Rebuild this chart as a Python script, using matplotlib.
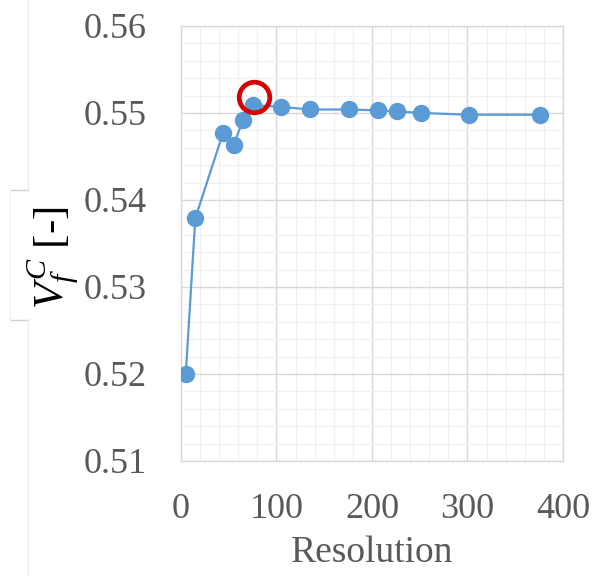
import matplotlib
matplotlib.use("Agg")
import matplotlib.pyplot as plt
from matplotlib.lines import Line2D
from matplotlib.ticker import MultipleLocator

plt.rcParams["font.family"] = "Liberation Serif"
plt.rcParams["mathtext.fontset"] = "custom"
plt.rcParams["mathtext.rm"] = "Liberation Serif"
plt.rcParams["mathtext.it"] = "Liberation Serif:italic"

# grid resolution vs. converged fibre volume fraction
resolution = [5, 15, 44, 55, 65, 75, 105, 135, 176, 206, 226, 251, 302, 376]
vf_c = [0.5200, 0.5379, 0.5477, 0.5463, 0.5492, 0.5509, 0.5507,
        0.5504, 0.5504, 0.5503, 0.5502, 0.5500, 0.5498, 0.5498]

# highlighted (chosen) resolution
highlight_x = 76
highlight_y = 0.5518

x_ticks = [0, 100, 200, 300, 400]
y_ticks = [0.51, 0.52, 0.53, 0.54, 0.55, 0.56]

BLUE = "#5B9BD5"
GREY_TXT = "#595959"

fig = plt.figure(figsize=(5.94, 5.76), dpi=100)
ax = fig.add_axes([0.3047, 0.1997, 0.6431, 0.7552])

ax.plot(resolution, vf_c, color=BLUE, lw=1.6, marker="o", ms=11.5,
        mec=BLUE, mfc=BLUE, zorder=3)
ax.plot(highlight_x, highlight_y, marker="o", ms=22, mfc="none",
        mec="#d60000", mew=3.4, zorder=4)

ax.set_xlim(0, 400)
ax.set_ylim(0.51, 0.56)
ax.set_xticks(x_ticks)
ax.set_yticks(y_ticks)
ax.set_yticklabels([f"{v:.2f}" for v in y_ticks])
ax.xaxis.set_minor_locator(MultipleLocator(20))
ax.yaxis.set_minor_locator(MultipleLocator(0.002))
ax.grid(True, which="major", color="#d9d9d9", lw=1.0, zorder=0)
ax.grid(True, which="minor", color="#f0f0f0", lw=0.9, zorder=0)
ax.set_axisbelow(True)
ax.tick_params(which="both", length=0, labelsize=26, labelcolor=GREY_TXT)
ax.tick_params(axis="x", pad=23)
ax.tick_params(axis="y", pad=25)
for s in ax.spines.values():
    s.set_color("#d9d9d9")
    s.set_linewidth(1.0)

ax.set_xlabel("Resolution", fontsize=27, color=GREY_TXT, labelpad=7)
fig.text(0.089, 0.552, "$V_f^C$ [-]", rotation=90, fontsize=31,
         color="black", ha="center", va="center")

# faint box lines at the left edge
top_y = 1 - 190 / 576
bot_y = 1 - 320 / 576
for y0 in (top_y, bot_y):
    fig.add_artist(Line2D([10 / 594, 28 / 594], [y0, y0], color="#d0d0d0", lw=1))
fig.add_artist(Line2D([10 / 594, 10 / 594], [top_y, bot_y], color="#f0f0f0", lw=1))
fig.add_artist(Line2D([28 / 594, 28 / 594], [top_y, 1], color="#ececec", lw=1))
fig.add_artist(Line2D([28 / 594, 28 / 594], [0, bot_y], color="#ececec", lw=1))

fig.savefig("out.png", dpi=100)
